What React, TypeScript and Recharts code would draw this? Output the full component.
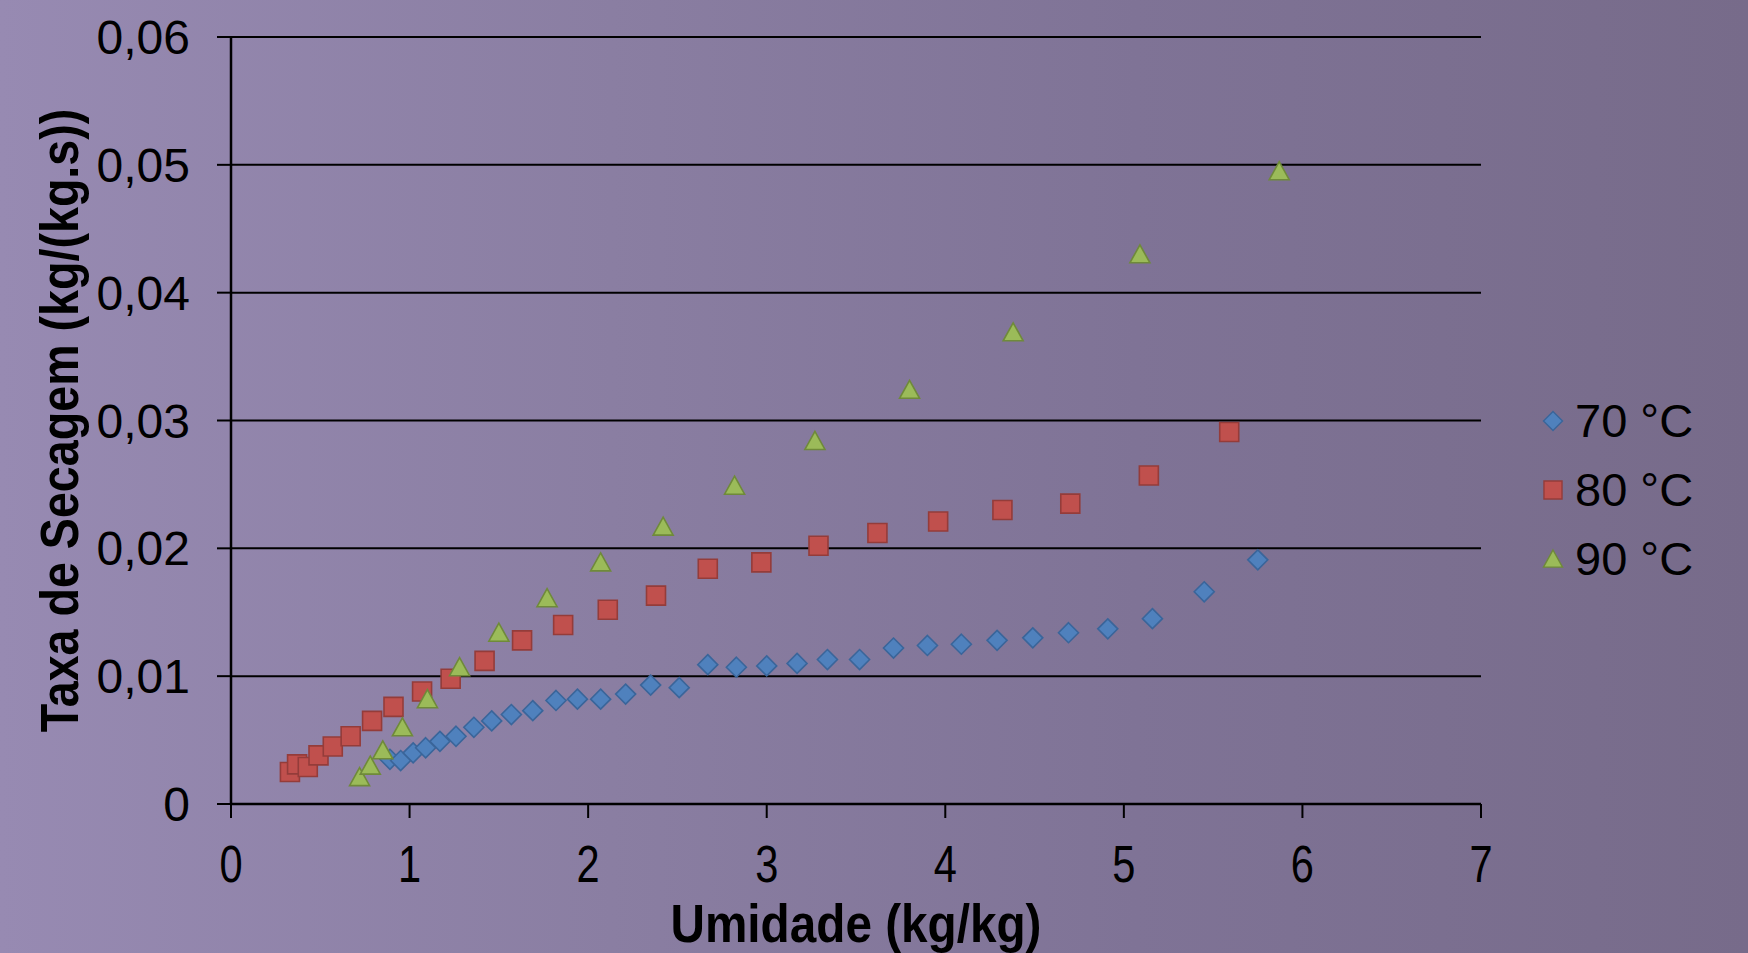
import React from 'react';
import { ScatterChart, Scatter, XAxis, YAxis, CartesianGrid, Legend } from 'recharts';

// Umidade (kg/kg) vs Taxa de Secagem (kg/(kg.s))
const x70 = [0.89, 0.95, 1.02, 1.09, 1.17, 1.26, 1.36, 1.46, 1.57, 1.69, 1.82, 1.94, 2.07, 2.21, 2.35, 2.51, 2.67, 2.83, 3.0, 3.17, 3.34, 3.52, 3.71, 3.9, 4.09, 4.29, 4.49, 4.69, 4.91, 5.16, 5.45, 5.75];
const y70 = [0.0035, 0.0034, 0.004, 0.0044, 0.0049, 0.0053, 0.006, 0.0065, 0.007, 0.0073, 0.0081, 0.0082, 0.0082, 0.0086, 0.0093, 0.0091, 0.0109, 0.0107, 0.0108, 0.011, 0.0113, 0.0113, 0.0122, 0.0124, 0.0125, 0.0128, 0.013, 0.0134, 0.0137, 0.0145, 0.0166, 0.0191];

const x80 = [0.33, 0.37, 0.43, 0.49, 0.57, 0.67, 0.79, 0.91, 1.07, 1.23, 1.42, 1.63, 1.86, 2.11, 2.38, 2.67, 2.97, 3.29, 3.62, 3.96, 4.32, 4.7, 5.14, 5.59];
const y80 = [0.0025, 0.0031, 0.0029, 0.0038, 0.0045, 0.0053, 0.0065, 0.0076, 0.0088, 0.0098, 0.0112, 0.0128, 0.014, 0.0152, 0.0163, 0.0184, 0.0189, 0.0202, 0.0212, 0.0221, 0.023, 0.0235, 0.0257, 0.0291];

const x90 = [0.72, 0.78, 0.85, 0.96, 1.1, 1.28, 1.5, 1.77, 2.07, 2.42, 2.82, 3.27, 3.8, 4.38, 5.09, 5.87];
const y90 = [0.0021, 0.003, 0.0042, 0.006, 0.0082, 0.0107, 0.0134, 0.0161, 0.0189, 0.0217, 0.0249, 0.0284, 0.0324, 0.0369, 0.043, 0.0495];

const xTicks = [0, 1, 2, 3, 4, 5, 6, 7];
const yTicks = [0, 0.01, 0.02, 0.03, 0.04, 0.05, 0.06];

const series = [
  { name: '70 °C', xs: x70, ys: y70, shape: 'diamond', fill: '#4F81BD', stroke: '#3A659A' },
  { name: '80 °C', xs: x80, ys: y80, shape: 'square', fill: '#C0504D', stroke: '#943C3A' },
  { name: '90 °C', xs: x90, ys: y90, shape: 'triangle', fill: '#9BBB59', stroke: '#6F8A3A' },
];

const FONT = '"Liberation Sans", Arial, sans-serif';

function markerPath(kind: string, cx: number, cy: number, k = 1) {
  if (kind === 'diamond') {
    const r = 10 * k;
    return `M${cx},${cy - r}L${cx + r},${cy}L${cx},${cy + r}L${cx - r},${cy}Z`;
  }
  if (kind === 'square') {
    const h = 9.5 * k;
    return `M${cx - h},${cy - h}H${cx + h}V${cy + h}H${cx - h}Z`;
  }
  return `M${cx},${cy - 9.5 * k}L${cx + 10 * k},${cy + 8.5 * k}L${cx - 10 * k},${cy + 8.5 * k}Z`;
}

const Marker = ({ kind, fill, stroke }: { kind: string; fill: string; stroke: string }) => (props: any) => {
  const { cx, cy } = props;
  if (cx == null || cy == null) return null;
  return <path d={markerPath(kind, cx, cy)} fill={fill} stroke={stroke} strokeWidth={1.6} />;
};

const LegendBox = () => (
  <div style={{ fontFamily: FONT, fontSize: 47, color: '#000' }}>
    {series.map((s) => (
      <div key={s.name} style={{ display: 'flex', alignItems: 'center', height: 69 }}>
        <svg width={24} height={24} style={{ marginRight: 10 }}>
          <path d={markerPath(s.shape, 12, 12, 0.95)} fill={s.fill} stroke={s.stroke} strokeWidth={1.4} />
        </svg>
        <span>{s.name}</span>
      </div>
    ))}
  </div>
);

const fmtY = (v: number) => (v === 0 ? '0' : v.toFixed(2).replace('.', ','));

const XTick = (props: any) => {
  const { x, y, payload } = props;
  return (
    <text
      transform={`translate(${x},${y}) scale(0.8,1)`}
      textAnchor="middle"
      dy="0.71em"
      fontFamily={FONT}
      fontSize={52}
      fill="#000"
    >
      {payload.value}
    </text>
  );
};

export default function App() {
  return (
    <div
      style={{
        position: 'absolute',
        left: 0,
        top: 0,
        width: 1748,
        height: 953,
        background: 'linear-gradient(90deg, #978ab2 0%, #8a7ea2 35%, #7f7396 65%, #776b8a 100%)',
        fontFamily: FONT,
      }}
    >
      <ScatterChart width={1748} height={953} margin={{ top: 37, right: 267, bottom: 0, left: 0 }}>
        <CartesianGrid vertical={false} stroke="#000" strokeWidth={2} />
        <XAxis
          type="number"
          dataKey="x"
          domain={[0, 7]}
          ticks={xTicks}
          height={149}
          axisLine={{ stroke: '#000', strokeWidth: 2.5 }}
          tickLine={{ stroke: '#000', strokeWidth: 2 }}
          tickSize={14}
          tickMargin={27}
          tick={<XTick />}
          label={{
            content: ({ viewBox }: any) => {
              const cx = viewBox.x + viewBox.width / 2;
              const cy = viewBox.y + 138;
              return (
                <text
                  transform={`translate(${cx},${cy}) scale(0.9,1)`}
                  textAnchor="middle"
                  fontFamily={FONT}
                  fontWeight="bold"
                  fontSize={53}
                  fill="#000"
                >
                  Umidade (kg/kg)
                </text>
              );
            },
          }}
        />
        <YAxis
          type="number"
          dataKey="y"
          domain={[0, 0.06]}
          ticks={yTicks}
          width={231}
          tickFormatter={fmtY}
          axisLine={{ stroke: '#000', strokeWidth: 2.5 }}
          tickLine={{ stroke: '#000', strokeWidth: 2 }}
          tickSize={14}
          tickMargin={27}
          tick={{ fill: '#000', fontSize: 48, fontFamily: FONT }}
          label={{
            content: ({ viewBox }: any) => {
              const cx = viewBox.x + 60;
              const cy = viewBox.y + viewBox.height / 2;
              return (
                <text
                  transform={`translate(${cx},${cy}) rotate(-90) scale(0.88,1)`}
                  textAnchor="middle"
                  dominantBaseline="central"
                  fontFamily={FONT}
                  fontWeight="bold"
                  fontSize={53}
                  fill="#000"
                >
                  Taxa de Secagem (kg/(kg.s))
                </text>
              );
            },
          }}
        />
        <Legend
          layout="vertical"
          align="center"
          verticalAlign="middle"
          content={() => <LegendBox />}
          wrapperStyle={{ left: 1541, top: 386, width: 'auto', height: 'auto' }}
        />
        {series.map((s) => (
          <Scatter
            key={s.name}
            name={s.name}
            data={s.xs.map((x, i) => ({ x, y: s.ys[i] }))}
            fill={s.fill}
            shape={Marker({ kind: s.shape, fill: s.fill, stroke: s.stroke })}
            isAnimationActive={false}
          />
        ))}
      </ScatterChart>
    </div>
  );
}
